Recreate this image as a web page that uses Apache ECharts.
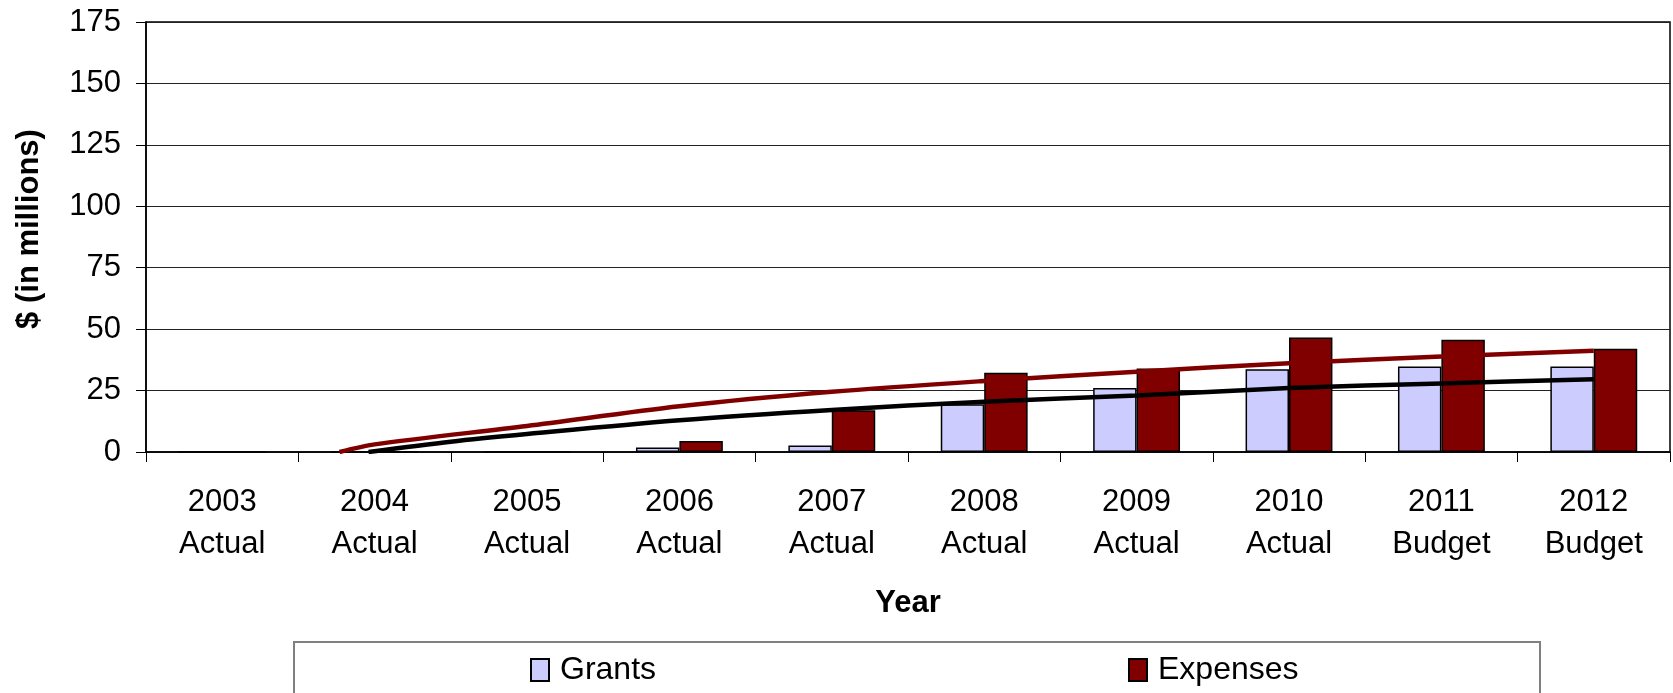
<!DOCTYPE html>
<html>
<head>
<meta charset="utf-8">
<script src="https://cdn.jsdelivr.net/npm/echarts@6/dist/echarts.min.js"></script>
<style>
html,body{margin:0;padding:0;background:#fff;}
#chart{width:1673px;height:693px;}
</style>
</head>
<body>
<div id="chart"></div>
<script>
// ---- data ----
var years = ['2003','2004','2005','2006','2007','2008','2009','2010','2011','2012'];
var kinds = ['Actual','Actual','Actual','Actual','Actual','Actual','Actual','Actual','Budget','Budget'];
var grants   = [0, 0, 0, 1.8, 2.6, 19.4, 26.0, 33.7, 34.8, 34.8];
var expenses = [0, 0, 0, 4.5, 17.0, 32.3, 34.0, 46.6, 45.7, 42.0];
// trend lines (x = category position 1..10, y = value)
var expTrendX = [1.77, 2, 3, 4, 5, 6, 7, 8, 9, 10];
var expTrendY = [0, 3.1, 10.6, 18.6, 24.5, 28.9, 32.7, 36.1, 38.9, 41.2];
var grtTrendX = [1.96, 2.5, 3, 4, 5, 6, 7, 8, 9, 10];
var grtTrendY = [0, 4.2, 7.3, 12.9, 17.1, 20.5, 23.0, 26.0, 27.9, 29.6];
var yTicks = {min: 0, max: 175, interval: 25};

var categories = years.map(function(y, i){ return y + '\n' + kinds[i]; });
function pairs(xs, ys){ return xs.map(function(x, i){ return [x, ys[i]]; }); }

var FONT = '"Liberation Sans", Arial, sans-serif';
var chart = echarts.init(document.getElementById('chart'));
chart.setOption({
  animation: false,
  backgroundColor: '#fff',
  grid: {left: 146, right: 3, top: 22, bottom: 241, show: true, borderColor: '#000', borderWidth: 1.5, containLabel: false},
  xAxis: [{
    type: 'category',
    data: categories,
    boundaryGap: true,
    name: 'Year',
    nameLocation: 'middle',
    nameGap: 136,
    nameTextStyle: {fontFamily: FONT, fontSize: 31, fontWeight: 'bold', color: '#000'},
    axisLine: {lineStyle: {color: '#000', width: 1.5}},
    axisTick: {show: true, length: 10, lineStyle: {color: '#000'}},
    axisLabel: {fontFamily: FONT, fontSize: 31, lineHeight: 42, color: '#000', margin: 29, interval: 0},
    splitLine: {show: false}
  }, {
    type: 'value',
    min: 0.5, max: 10.5,
    show: false,
    splitLine: {show: false}
  }],
  yAxis: {
    type: 'value',
    min: yTicks.min, max: yTicks.max, interval: yTicks.interval,
    name: '$ (in millions)',
    nameLocation: 'middle',
    nameGap: 101,
    nameRotate: 90,
    nameTextStyle: {fontFamily: FONT, fontSize: 31, fontWeight: 'bold', color: '#000', padding: [0, 0, 0, 16]},
    axisLine: {show: true, lineStyle: {color: '#000', width: 1.5}},
    axisTick: {show: true, length: 10, lineStyle: {color: '#000'}},
    axisLabel: {fontFamily: FONT, fontSize: 31, color: '#000', margin: 25},
    splitLine: {show: true, lineStyle: {color: '#222', width: 1}}
  },
  legend: [{
    data: ['Grants'],
    left: 530, top: 654, padding: 0,
    icon: 'rect',
    itemWidth: 18, itemHeight: 22,
    textStyle: {fontFamily: FONT, fontSize: 32, color: '#000', padding: [0, 0, 0, 6]}
  }, {
    data: ['Expenses'],
    left: 1128, top: 654, padding: 0,
    icon: 'rect',
    itemWidth: 18, itemHeight: 22,
    textStyle: {fontFamily: FONT, fontSize: 32, color: '#000', padding: [0, 0, 0, 6]}
  }],
  graphic: [{
    type: 'rect',
    shape: {x: 294, y: 642, width: 1246, height: 100},
    style: {fill: 'none', stroke: '#808080', lineWidth: 2},
    silent: true
  }],
  series: [{
    name: 'Grants',
    type: 'bar',
    data: grants,
    barGap: '0%',
    barCategoryGap: '43%',
    itemStyle: {color: '#CCCCFF', borderColor: '#000', borderWidth: 1.5}
  }, {
    name: 'Expenses',
    type: 'bar',
    data: expenses,
    barGap: '0%',
    barCategoryGap: '43%',
    itemStyle: {color: '#800000', borderColor: '#000', borderWidth: 1.5}
  }, {
    name: 'Expenses trend',
    type: 'line',
    xAxisIndex: 1,
    data: pairs(expTrendX, expTrendY),
    smooth: 0.3,
    showSymbol: false,
    z: 5,
    lineStyle: {color: '#800000', width: 4.5}
  }, {
    name: 'Grants trend',
    type: 'line',
    xAxisIndex: 1,
    data: pairs(grtTrendX, grtTrendY),
    smooth: 0.3,
    showSymbol: false,
    z: 5,
    lineStyle: {color: '#000', width: 4.5}
  }]
});
</script>
</body>
</html>
